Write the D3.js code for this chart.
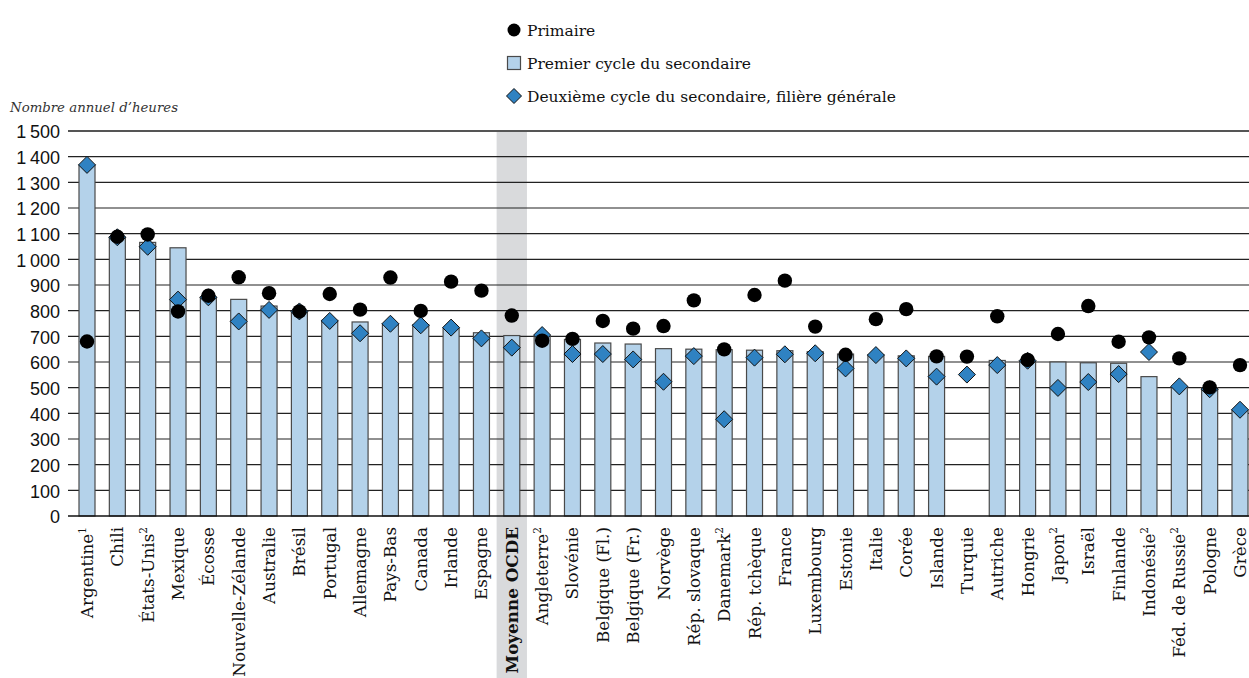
<!DOCTYPE html>
<html><head><meta charset="utf-8">
<script src="https://cdn.jsdelivr.net/npm/d3@7"></script>
<style>body{margin:0;background:#fff}svg{display:block}</style>
</head><body>
<svg id="c" width="1249" height="678"></svg>
<script>
const countries = ["Argentine","Chili","États-Unis","Mexique","Écosse","Nouvelle-Zélande","Australie","Brésil","Portugal","Allemagne","Pays-Bas","Canada","Irlande","Espagne","Moyenne OCDE","Angleterre","Slovénie","Belgique (Fl.)","Belgique (Fr.)","Norvège","Rép. slovaque","Danemark","Rép. tchèque","France","Luxembourg","Estonie","Italie","Corée","Islande","Turquie","Autriche","Hongrie","Japon","Israël","Finlande","Indonésie","Féd. de Russie","Pologne","Grèce"];
const notes = ["1","","2","","","","","","","","","","","","","2","","","","","","2","","","","","","","","","","","2","","","2","2","",""];
const primaire = [680,1088,1097,797,858,930,868,797,865,804,929,799,913,878,781,683,690,760,730,740,840,649,861,917,738,628,767,806,622,621,778,608,709,818,679,696,614,501,588];
const premierCycle = [1368,1086,1066,1045,852,844,818,797,762,756,749,745,733,714,703,700,688,674,670,652,650,648,646,644,640,631,628,624,622,null,606,603,600,597,595,543,504,499,414];
const deuxiemeCycle = [1368,1086,1049,843,852,758,803,797,760,712,749,743,734,692,656,705,631,631,610,523,623,377,617,630,634,575,627,614,543,551,588,605,499,522,553,639,505,494,414];
const yTicks = [0,100,200,300,400,500,600,700,800,900,1000,1100,1200,1300,1400,1500];
const legendLabels = ["Primaire","Premier cycle du secondaire","Deuxième cycle du secondaire, filière générale"];
const yTitle = "Nombre annuel d’heures";
const highlight = "Moyenne OCDE";

(function(){
const svg = d3.select("#c");
const pL = 68, pR = 1249, pT = 131, pB = 516;
const x = d3.scalePoint().domain(countries).range([87, 1240]);
const step = x.step();
const y = d3.scaleLinear().domain([0, 1500]).range([pB, pT]);
const fmt = v => d3.format(",")(v).replace(/,/g, "\u2009");
const serif = "'DejaVu Serif', serif";

svg.append("rect").attr("x", x(highlight) - step/2).attr("y", pT).attr("width", step)
  .attr("height", 678 - pT).attr("fill", "#d9dadc");

svg.append("g").selectAll("line").data(yTicks.filter(t => t > 0)).join("line")
  .attr("x1", pL).attr("x2", pR).attr("y1", d => y(d)).attr("y2", d => y(d))
  .attr("stroke", d => d === 1500 ? "#555" : "#222").attr("stroke-width", d => d === 1500 ? 2 : 1.2);

const yAxis = d3.axisLeft(y).tickValues(yTicks).tickFormat(fmt).tickSize(0).tickPadding(0);
const ga = svg.append("g").attr("transform", `translate(60,1)`).call(yAxis);
ga.select(".domain").remove();
ga.selectAll("text").attr("font-family", "'Liberation Sans', Arial, sans-serif").attr("font-size", 18).attr("fill", "#111");

svg.append("text").attr("x", 10).attr("y", 112).attr("font-family", serif).attr("font-style", "italic")
  .attr("font-size", 13.3).attr("fill", "#333").text(yTitle);

const bw = 16;
svg.append("g").selectAll("rect").data(countries.map((c,i)=>({c, v: premierCycle[i]})).filter(d => d.v != null)).join("rect")
  .attr("x", d => x(d.c) - bw/2).attr("width", bw)
  .attr("y", d => y(d.v)).attr("height", d => y(0) - y(d.v))
  .attr("fill", "#b4d2ea").attr("stroke", "#4a4a4a").attr("stroke-width", 1.2);

svg.append("line").attr("x1", pL).attr("x2", pR).attr("y1", y(0)).attr("y2", y(0))
  .attr("stroke", "#111").attr("stroke-width", 1.5);

const ds = 8.5;
const diamond = (cx, cy) => `M${cx},${cy-ds}L${cx+ds},${cy}L${cx},${cy+ds}L${cx-ds},${cy}Z`;
svg.append("g").selectAll("path").data(countries.map((c,i)=>({c, v: deuxiemeCycle[i]})).filter(d => d.v != null)).join("path")
  .attr("d", d => diamond(x(d.c), y(d.v)))
  .attr("fill", "#2f82c2").attr("stroke", "#111").attr("stroke-width", 1);

svg.append("g").selectAll("circle").data(countries.map((c,i)=>({c, v: primaire[i]})).filter(d => d.v != null)).join("circle")
  .attr("cx", d => x(d.c)).attr("cy", d => y(d.v)).attr("r", 7.2).attr("fill", "#000");

const xl = svg.append("g").selectAll("text").data(countries.map((c,i)=>({c, n: notes[i]}))).join("text")
  .attr("transform", d => `translate(${x(d.c) + 6},527) rotate(-90)`)
  .attr("text-anchor", "end").attr("font-family", serif).attr("font-size", 16.8).attr("fill", "#111")
  .attr("font-weight", d => d.c === highlight ? "bold" : "normal");
xl.append("tspan").text(d => d.c);
xl.filter(d => d.n).append("tspan").attr("font-size", 10.5).attr("dy", -7).text(d => d.n);

const lx = 514, lys = [30, 63, 96];
const lg = svg.append("g");
lg.append("circle").attr("cx", lx).attr("cy", lys[0]).attr("r", 6.5).attr("fill", "#000");
lg.append("rect").attr("x", lx - 6.5).attr("y", lys[1] - 6.5).attr("width", 13).attr("height", 13)
  .attr("fill", "#b4d2ea").attr("stroke", "#4a4a4a").attr("stroke-width", 1.2);
lg.append("path").attr("d", `M${lx},${lys[2]-7.5}L${lx+7.5},${lys[2]}L${lx},${lys[2]+7.5}L${lx-7.5},${lys[2]}Z`)
  .attr("fill", "#2f82c2").attr("stroke", "#111").attr("stroke-width", 1);
lg.selectAll("text").data(legendLabels).join("text")
  .attr("x", lx + 13).attr("y", (d,i) => lys[i] + 5.5)
  .attr("font-family", serif).attr("font-size", 15.5).attr("fill", "#111").text(d => d);
})();
</script>
</body></html>
